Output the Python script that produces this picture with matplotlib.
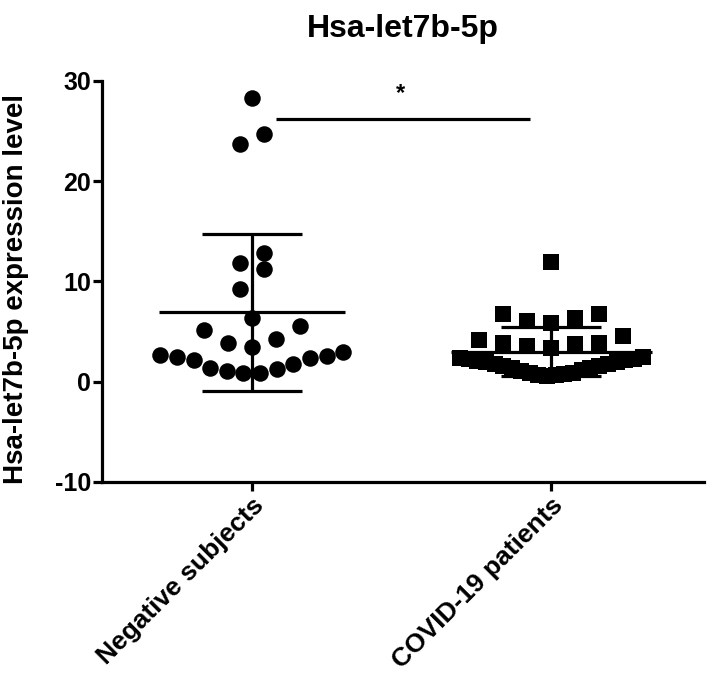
import numpy as np
import matplotlib
matplotlib.use("Agg")
import matplotlib.pyplot as plt

# ---------------- data ----------------
categories = ["Negative subjects", "COVID-19 patients"]
negative_values = [28.3, 24.7, 23.7, 12.8, 11.8, 11.2, 9.2, 6.4, 5.6, 5.2,
                   4.3, 3.9, 3.5, 3.0, 2.7, 2.6, 2.5, 2.4, 2.2, 1.8, 1.4,
                   1.3, 1.1, 0.9, 0.9]
covid_values = [11.9, 6.8, 6.8, 6.4, 6.1, 5.9, 4.6, 4.2, 3.9, 3.9, 3.8,
                3.6, 3.4, 2.5, 2.4, 2.3, 2.25, 2.15, 2.1, 2.0, 1.95, 1.8,
                1.75, 1.6, 1.55, 1.4, 1.35, 1.15, 1.1, 0.9, 0.85, 0.75,
                0.7, 0.65, 0.6]
yticks = [-10, 0, 10, 20, 30]
title = "Hsa-let7b-5p"
ylabel = "Hsa-let7b-5p expression level"
sig_label = "*"

FONT = ["Liberation Sans", "DejaVu Sans"]


def swarm_offsets(values, gap=2.4, max_width=0.61, spacing=0.08):
    """GraphPad-like row layout: similar values form a row, sorted from the
    centre outward, alternating left/right."""
    values = np.asarray(values, float)
    order = np.argsort(values, kind="stable")
    rows, current, start = [], [], None
    for idx in order:
        v = values[idx]
        if current and v - start > gap:
            rows.append(current)
            current = []
        if not current:
            start = v
        current.append(idx)
    rows.append(current)
    offsets = np.zeros(len(values))
    for row in rows:
        n = len(row)
        step = spacing if n < 2 else min(spacing, max_width / (n - 1))
        for k, idx in enumerate(row):
            if n % 2 == 1:
                if k == 0:
                    slot = 0
                else:
                    m = (k + 1) // 2
                    slot = -m if k % 2 == 1 else m
            else:
                m = k // 2 + 0.5
                slot = -m if k % 2 == 0 else m
            offsets[idx] = slot * step
    return offsets


fig = plt.figure(figsize=(7.09, 6.91), dpi=100)
ax = fig.add_axes([0.1439, 0.3025, 0.993 - 0.1439, 0.8828 - 0.3025])

groups = [negative_values, covid_values]
markers = ["o", "s"]
msizes = [11.9, 12.2]
mean_half = [0.31, 0.335]
cap_half = 0.167
lw = 2.3

for i, (vals, mk, ms) in enumerate(zip(groups, markers, msizes)):
    vals = np.asarray(vals, float)
    x = i + swarm_offsets(vals)
    ax.scatter(x, vals, s=ms ** 2, marker=mk, c="black", linewidths=0,
               zorder=2, clip_on=False)
    mean = vals.mean()
    sd = vals.std(ddof=1)
    ax.plot([i - mean_half[i], i + mean_half[i]], [mean, mean], color="black",
            lw=lw, solid_capstyle="butt", zorder=3)
    ax.plot([i, i], [mean - sd, mean + sd], color="black", lw=lw,
            solid_capstyle="butt", zorder=3)
    for yy in (mean - sd, mean + sd):
        ax.plot([i - cap_half, i + cap_half], [yy, yy], color="black", lw=lw,
                solid_capstyle="butt", zorder=3)

# significance bar
ax.plot([0.08, 0.93], [26.25, 26.25], color="black", lw=lw,
        solid_capstyle="butt", clip_on=False)
ax.text(0.497, 27.6, sig_label, ha="center", va="bottom", fontsize=17,
        fontweight="bold", family=FONT)

ax.set_xlim(-0.5, 1.51)
ax.set_ylim(-10, 30)
ax.set_yticks(yticks)
ax.set_yticklabels([str(t) for t in yticks], fontsize=18, fontweight="bold",
                   family=FONT)
ax.set_xticks([0, 1])
ax.set_xticklabels(categories, rotation=45, ha="right", va="top",
                   rotation_mode="anchor", fontsize=19, fontweight="bold",
                   family=FONT)

for side in ("top", "right"):
    ax.spines[side].set_visible(False)
for side in ("left", "bottom"):
    ax.spines[side].set_linewidth(lw)
    ax.spines[side].set_capstyle("projecting")
ax.tick_params(axis="both", direction="out", length=6.5, width=lw,
               color="black", pad=1.5)

ax.set_ylabel(ylabel, fontsize=20, fontweight="bold", family=FONT)
ax.yaxis.set_label_coords(-0.122, 0.48)

fig.text(0.568, 0.958, title, ha="center", va="center", fontsize=23,
         fontweight="bold", family=FONT)

fig.savefig("out.png", dpi=100)
